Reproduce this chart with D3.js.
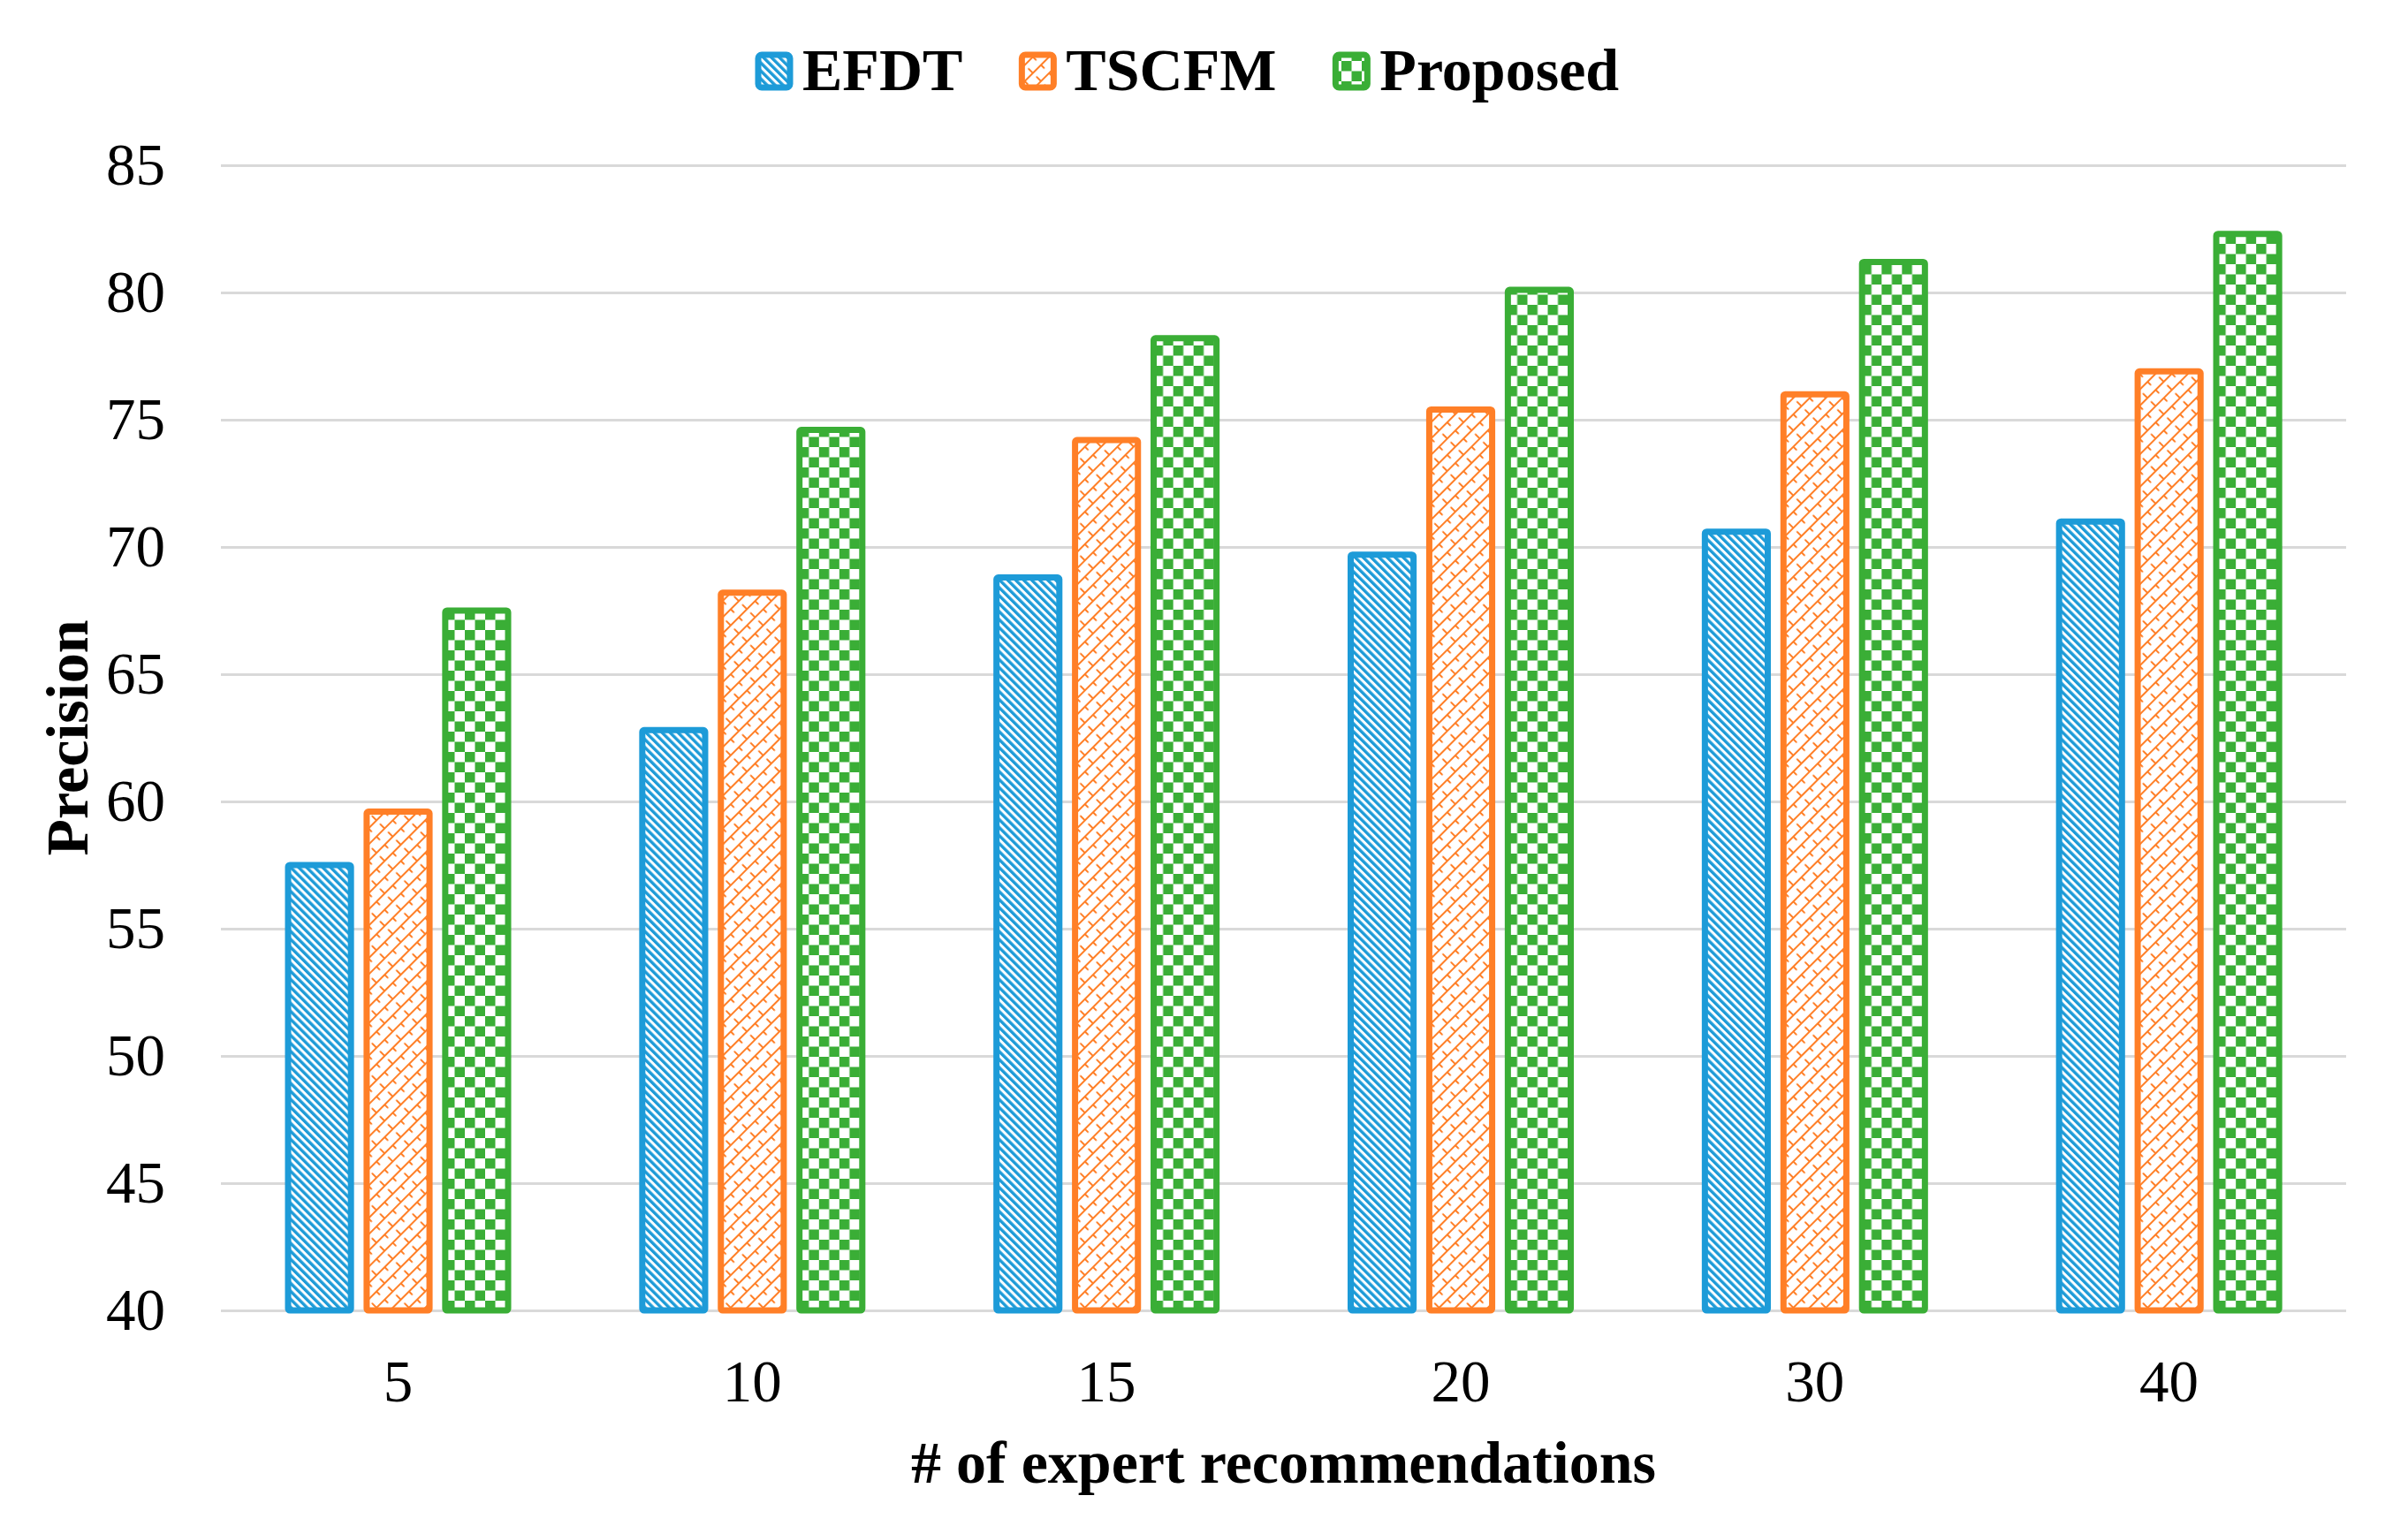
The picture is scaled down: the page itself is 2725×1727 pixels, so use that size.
<!DOCTYPE html>
<html>
<head>
<meta charset="utf-8">
<script src="https://cdn.jsdelivr.net/npm/d3@7"></script>
<style>
  body { margin: 0; background: #fff; }
  text { font-family: "Liberation Serif", "Times New Roman", serif; fill: #000; }
</style>
</head>
<body>
<svg id="chart"></svg>
<script>
// data
var categories = ["5", "10", "15", "20", "30", "40"];
var series = ["EFDT", "TSCFM", "Proposed"];
var efdt = [57.5, 62.8, 68.8, 69.7, 70.6, 71.0];
var tscfm = [59.6, 68.2, 74.2, 75.4, 76.0, 76.9];
var proposed = [67.5, 74.6, 78.2, 80.1, 81.2, 82.3];
var yTicks = [40, 45, 50, 55, 60, 65, 70, 75, 80, 85];

var values = { EFDT: efdt, TSCFM: tscfm, Proposed: proposed };
var colors = { EFDT: "#1d9bd8", TSCFM: "#ff7f27", Proposed: "#3aae36" };

var w = 2725;
var h = 1727;
// plot area (window.top is reserved, so no bare "top")
var plotLeft = 250, plotRight = 2655, plotTop = 187, plotBottom = 1483;

var svg = d3.select("#chart")
    .attr("width", w)
    .attr("height", h);

// fill patterns
var defs = svg.append("defs");

var pBlue = defs.append("pattern")
    .attr("id", "pat-EFDT")
    .attr("patternUnits", "userSpaceOnUse")
    .attr("width", 6.4).attr("height", 6.4)
    .attr("patternTransform", "rotate(-45)");
pBlue.append("rect").attr("width", 6.4).attr("height", 6.4).attr("fill", "#fff");
pBlue.append("rect").attr("width", 3.4).attr("height", 6.4).attr("fill", colors.EFDT);

var pOrange = defs.append("pattern")
    .attr("id", "pat-TSCFM")
    .attr("patternUnits", "userSpaceOnUse")
    .attr("width", 26).attr("height", 13)
    .attr("patternTransform", "rotate(-45)");
pOrange.append("rect").attr("width", 26).attr("height", 13).attr("fill", "#fff");
pOrange.append("path")
    .attr("d", "M0,1H26 M1,0V6.5 M14,6.5V13")
    .attr("stroke", colors.TSCFM)
    .attr("stroke-width", 2)
    .attr("fill", "none");

var pGreen = defs.append("pattern")
    .attr("id", "pat-Proposed")
    .attr("patternUnits", "userSpaceOnUse")
    .attr("width", 23).attr("height", 23);
pGreen.append("rect").attr("width", 23).attr("height", 23).attr("fill", "#fff");
pGreen.append("rect").attr("width", 11.5).attr("height", 11.5).attr("fill", colors.Proposed);
pGreen.append("rect").attr("x", 11.5).attr("y", 11.5).attr("width", 11.5).attr("height", 11.5).attr("fill", colors.Proposed);

// scales
var y = d3.scaleLinear()
    .domain([40, 85])
    .range([plotBottom, plotTop]);

var x0 = d3.scaleBand()
    .domain(categories)
    .range([plotLeft, plotRight]);

var x1 = d3.scaleBand()
    .domain(series)
    .range([76, 325])
    .paddingInner(0.2);

// y axis with gridlines
var yAxis = svg.append("g")
    .attr("transform", "translate(" + plotLeft + ",0)")
    .call(d3.axisLeft(y)
        .tickValues(yTicks)
        .tickSize(-(plotRight - plotLeft))
        .tickPadding(63));
yAxis.select(".domain").remove();
yAxis.selectAll(".tick line")
    .attr("stroke", "#d9d9d9")
    .attr("stroke-width", 3);
yAxis.selectAll(".tick text")
    .style("font-size", "67px");

// x axis labels
var xAxis = svg.append("g")
    .attr("transform", "translate(0," + plotBottom + ")")
    .call(d3.axisBottom(x0).tickSize(0).tickPadding(55));
xAxis.select(".domain").remove();
xAxis.selectAll(".tick text")
    .style("font-size", "67px");

// bars
var groups = svg.selectAll(".group")
    .data(categories)
    .enter()
    .append("g")
    .classed("group", true)
    .attr("transform", function(d) {
        return "translate(" + x0(d) + ",0)";
    });

groups.selectAll("rect")
    .data(function(d, i) {
        return series.map(function(s) {
            return { key: s, value: values[s][i] };
        });
    })
    .enter()
    .append("rect")
    .attr("x", function(d) { return x1(d.key); })
    .attr("y", function(d) { return y(d.value); })
    .attr("width", x1.bandwidth())
    .attr("height", function(d) { return y(40) - y(d.value); })
    .attr("rx", 2)
    .attr("fill", function(d) { return "url(#pat-" + d.key + ")"; })
    .attr("stroke", function(d) { return colors[d.key]; })
    .attr("stroke-width", 7);

// legend
var legend = svg.append("g");
var lx = 855;
series.forEach(function(s) {
    legend.append("rect")
        .attr("x", lx + 3).attr("y", 62)
        .attr("width", 36).attr("height", 37)
        .attr("rx", 4)
        .attr("fill", "url(#pat-" + s + ")")
        .attr("stroke", colors[s])
        .attr("stroke-width", 7);
    var t = legend.append("text")
        .attr("x", lx + 53)
        .attr("y", 102)
        .style("font-size", "68px")
        .style("font-weight", "bold")
        .text(s);
    lx = lx + 53 + t.node().getComputedTextLength() + 64;
});

// axis titles
svg.append("text")
    .attr("x", (plotLeft + plotRight) / 2)
    .attr("y", 1678)
    .attr("text-anchor", "middle")
    .style("font-size", "68px")
    .style("font-weight", "bold")
    .text("# of expert recommendations");

svg.append("text")
    .attr("transform", "translate(99," + (plotTop + plotBottom) / 2 + ") rotate(-90)")
    .attr("text-anchor", "middle")
    .style("font-size", "68px")
    .style("font-weight", "bold")
    .text("Precision");
</script>
</body>
</html>
